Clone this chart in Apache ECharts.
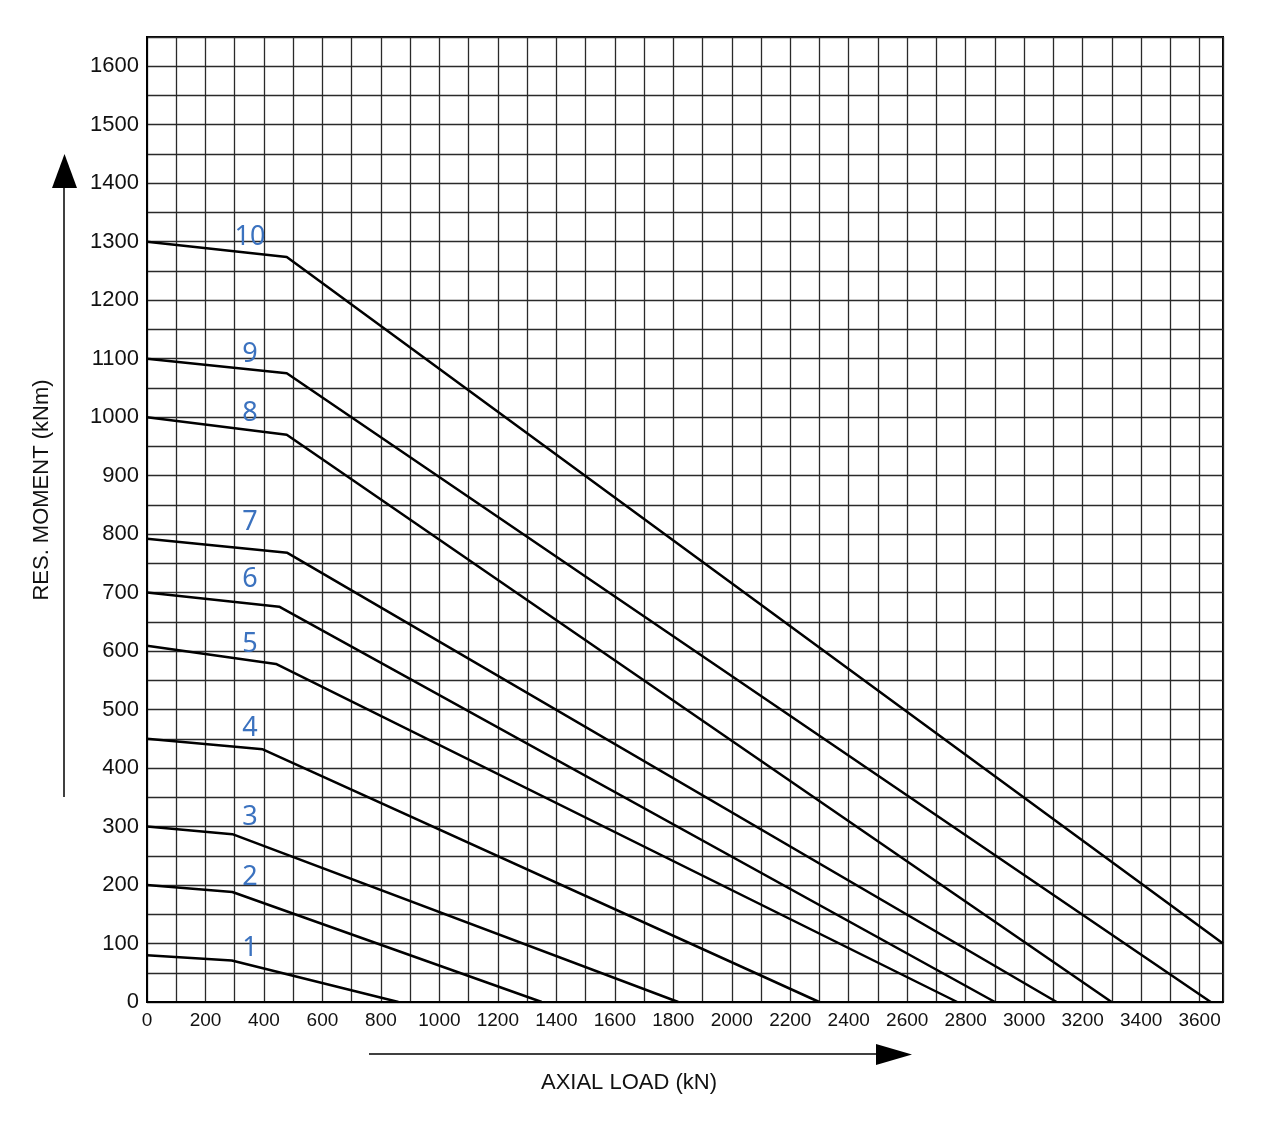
<!DOCTYPE html>
<html>
<head>
<meta charset="utf-8">
<script src="https://cdn.jsdelivr.net/npm/echarts@6/dist/echarts.min.js"></script>
<style>
  html, body { margin: 0; padding: 0; background: #fff; }
  #chart { width: 1261px; height: 1123px; }
</style>
</head>
<body>
<div id="chart"></div>
<script>
// axial load (kN) at start, bend and end of each curve
const curveNames = ['1', '2', '3', '4', '5', '6', '7', '8', '9', '10'];
const loadPts = [
    [0, 290, 860],
    [0, 292, 1350],
    [0, 292, 1817],
    [0, 396, 2299],
    [0, 441, 2771],
    [0, 452, 2900],
    [0, 480, 3111],
    [0, 478, 3299],
    [0, 478, 3638],
    [0, 478, 3680]
];
// resisting moment (kNm) at the same points
const momentPts = [
    [80, 71, 0],
    [200, 188, 0],
    [300, 287, 0],
    [450, 432, 0],
    [609, 578, 0],
    [700, 676, 0],
    [792, 768, 0],
    [1000, 970, 0],
    [1100, 1075, 0],
    [1300, 1274, 100]
];
// where the curve numbers sit
const tagLoad = 352;
const tagMoment = [91, 214, 316, 468, 612, 722, 820, 1006, 1107, 1307];

const xMax = 3680;
const yMax = 1650;

var chart = echarts.init(document.getElementById('chart'));

var series = curveNames.map(function (name, i) {
    return {
        name: name,
        type: 'line',
        silent: true,
        symbol: 'none',
        lineStyle: { color: '#000', width: 2.5 },
        data: loadPts[i].map(function (x, j) { return [x, momentPts[i][j]]; })
    };
});

series.push({
    type: 'scatter',
    silent: true,
    symbolSize: 0,
    itemStyle: { color: 'rgba(0,0,0,0)', opacity: 1 },
    label: {
        show: true,
        position: 'inside',
        color: '#3b72bf',
        opacity: 1,
        textBorderWidth: 0,
        fontFamily: 'Noto Sans',
        fontSize: 27,
        formatter: function (p) { return p.value[2]; }
    },
    data: curveNames.map(function (name, i) { return [tagLoad, tagMoment[i], name]; })
});

chart.setOption({
    animation: false,
    backgroundColor: '#fff',
    grid: {
        left: 147, top: 37, right: 38, bottom: 121,
        show: true, borderColor: '#000', borderWidth: 2
    },
    xAxis: {
        type: 'value',
        min: 0, max: xMax, interval: 100,
        axisLine: { show: true, lineStyle: { color: '#000', width: 2 } },
        axisTick: { show: false },
        splitLine: { show: true, lineStyle: { color: '#2a2a2a', width: 1.3 } },
        axisLabel: {
            margin: 9,
            color: '#111',
            fontFamily: 'Liberation Sans',
            fontSize: 19,
            showMaxLabel: false,
            formatter: function (v) { return v % 200 === 0 ? String(v) : ''; }
        }
    },
    yAxis: {
        type: 'value',
        min: 0, max: yMax, interval: 50,
        axisLine: { show: true, lineStyle: { color: '#000', width: 2 } },
        axisTick: { show: false },
        splitLine: { show: true, lineStyle: { color: '#2a2a2a', width: 1.3 } },
        axisLabel: {
            margin: 8,
            color: '#111',
            fontFamily: 'Liberation Sans',
            fontSize: 22,
            showMaxLabel: false,
            formatter: function (v) { return v % 100 === 0 ? String(v) : ''; }
        }
    },
    graphic: [
        { type: 'line', shape: { x1: 64, y1: 186, x2: 64, y2: 797 }, style: { stroke: '#000', lineWidth: 1.5 } },
        { type: 'polygon', shape: { points: [[52, 188], [77, 188], [64.5, 154]] }, style: { fill: '#000' } },
        { type: 'line', shape: { x1: 369, y1: 1054, x2: 878, y2: 1054 }, style: { stroke: '#000', lineWidth: 1.5 } },
        { type: 'polygon', shape: { points: [[876, 1044], [876, 1065], [912, 1054.5]] }, style: { fill: '#000' } },
        {
            type: 'text', x: 42, y: 490, rotation: Math.PI / 2,
            style: {
                text: 'RES. MOMENT (kNm)', fill: '#111', font: '22px "Liberation Sans"',
                align: 'center', verticalAlign: 'middle'
            }
        },
        {
            type: 'text', x: 629, y: 1083,
            style: {
                text: 'AXIAL LOAD (kN)', fill: '#111', font: '22px "Liberation Sans"',
                align: 'center', verticalAlign: 'middle'
            }
        }
    ],
    series: series
});
</script>
</body>
</html>
